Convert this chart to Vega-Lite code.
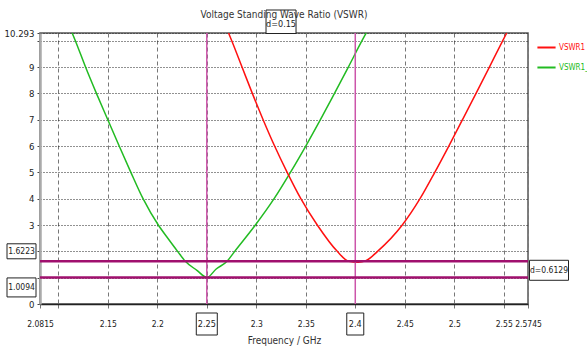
{
  "$schema": "https://vega.github.io/schema/vega-lite/v6.json",
  "width": 488,
  "height": 271,
  "autosize": {"type": "none"},
  "padding": {"left": 40, "top": 33, "right": 59, "bottom": 54},
  "background": "white",
  "title": {"text": "Voltage Standing Wave Ratio (VSWR)", "fontSize": 10, "fontWeight": "normal", "color": "#333", "font": "DejaVu Sans Condensed", "offset": -12, "anchor": "middle"},
  "config": {
    "view": {"stroke": "#555", "strokeWidth": 1.5},
    "font": "DejaVu Sans Condensed",
    "axis": {"labelFont": "DejaVu Sans Condensed", "titleFont": "DejaVu Sans Condensed", "labelOverlap": false, "labelFlush": false},
    "legend": {"labelFont": "DejaVu Sans Condensed"}
  },
  "datasets": {
    "curves": [
      {"freq": 2.1140, "vswr": 10.293, "series": "VSWR1_1"},
      {"freq": 2.1172, "vswr": 10, "series": "VSWR1_1"},
      {"freq": 2.1275, "vswr": 9, "series": "VSWR1_1"},
      {"freq": 2.1385, "vswr": 8, "series": "VSWR1_1"},
      {"freq": 2.1500, "vswr": 7, "series": "VSWR1_1"},
      {"freq": 2.1615, "vswr": 6, "series": "VSWR1_1"},
      {"freq": 2.1733, "vswr": 5, "series": "VSWR1_1"},
      {"freq": 2.1856, "vswr": 4, "series": "VSWR1_1"},
      {"freq": 2.2010, "vswr": 3, "series": "VSWR1_1"},
      {"freq": 2.2112, "vswr": 2.47, "series": "VSWR1_1"},
      {"freq": 2.2205, "vswr": 2, "series": "VSWR1_1"},
      {"freq": 2.2283, "vswr": 1.6223, "series": "VSWR1_1"},
      {"freq": 2.2400, "vswr": 1.28, "series": "VSWR1_1"},
      {"freq": 2.2502, "vswr": 1.0094, "series": "VSWR1_1"},
      {"freq": 2.2595, "vswr": 1.33, "series": "VSWR1_1"},
      {"freq": 2.2705, "vswr": 1.6223, "series": "VSWR1_1"},
      {"freq": 2.2782, "vswr": 2, "series": "VSWR1_1"},
      {"freq": 2.2991, "vswr": 3, "series": "VSWR1_1"},
      {"freq": 2.3180, "vswr": 4, "series": "VSWR1_1"},
      {"freq": 2.3345, "vswr": 5, "series": "VSWR1_1"},
      {"freq": 2.3500, "vswr": 6, "series": "VSWR1_1"},
      {"freq": 2.3648, "vswr": 7, "series": "VSWR1_1"},
      {"freq": 2.3790, "vswr": 8, "series": "VSWR1_1"},
      {"freq": 2.3930, "vswr": 9, "series": "VSWR1_1"},
      {"freq": 2.4068, "vswr": 10, "series": "VSWR1_1"},
      {"freq": 2.4110, "vswr": 10.293, "series": "VSWR1_1"},
      {"freq": 2.2720, "vswr": 10.293, "series": "VSWR1"},
      {"freq": 2.2752, "vswr": 10, "series": "VSWR1"},
      {"freq": 2.2856, "vswr": 9, "series": "VSWR1"},
      {"freq": 2.2960, "vswr": 8, "series": "VSWR1"},
      {"freq": 2.3069, "vswr": 7, "series": "VSWR1"},
      {"freq": 2.3185, "vswr": 6, "series": "VSWR1"},
      {"freq": 2.3312, "vswr": 5, "series": "VSWR1"},
      {"freq": 2.3450, "vswr": 4, "series": "VSWR1"},
      {"freq": 2.3616, "vswr": 3, "series": "VSWR1"},
      {"freq": 2.3818, "vswr": 2, "series": "VSWR1"},
      {"freq": 2.3935, "vswr": 1.6223, "series": "VSWR1"},
      {"freq": 2.4030, "vswr": 1.59, "series": "VSWR1"},
      {"freq": 2.4105, "vswr": 1.64, "series": "VSWR1"},
      {"freq": 2.4225, "vswr": 2, "series": "VSWR1"},
      {"freq": 2.4475, "vswr": 3, "series": "VSWR1"},
      {"freq": 2.4654, "vswr": 4, "series": "VSWR1"},
      {"freq": 2.4803, "vswr": 5, "series": "VSWR1"},
      {"freq": 2.4945, "vswr": 6, "series": "VSWR1"},
      {"freq": 2.5083, "vswr": 7, "series": "VSWR1"},
      {"freq": 2.5220, "vswr": 8, "series": "VSWR1"},
      {"freq": 2.5355, "vswr": 9, "series": "VSWR1"},
      {"freq": 2.5490, "vswr": 10, "series": "VSWR1"},
      {"freq": 2.5530, "vswr": 10.293, "series": "VSWR1"}
    ]
  },
  "encoding": {
    "x": {"type": "quantitative", "scale": {"domain": [2.0815, 2.5745], "nice": false, "zero": false}},
    "y": {"type": "quantitative", "scale": {"domain": [0, 10.293], "nice": false, "zero": false}}
  },
  "layer": [
    {
      "data": {"name": "curves"},
      "mark": {"type": "line", "strokeWidth": 1.5, "interpolate": "monotone"},
      "encoding": {
        "x": {"field": "freq", "type": "quantitative",
          "axis": {"values": [2.0815, 2.1, 2.15, 2.2, 2.25, 2.3, 2.35, 2.4, 2.45, 2.5, 2.55, 2.5745], "tickCount": 30,
            "labelExpr": "datum.value == 2.1 ? '' : toString(datum.value)",
            "grid": true, "gridColor": "#777", "gridDash": [4, 3], "gridWidth": 1,
            "domainColor": "#222", "domainWidth": 1.5, "tickColor": "#777", "tickSize": 4,
            "labelPadding": 11, "labelFontSize": 8.5, "labelColor": "#222", "labelOverlap": false, "labelFlush": false,
            "title": "Frequency / GHz", "titleFontSize": 10, "titleFontWeight": "normal", "titleColor": "#333", "titlePadding": 8}},
        "y": {"field": "vswr", "type": "quantitative",
          "axis": {"values": [0, 1, 2, 3, 4, 5, 6, 7, 8, 9, 10, 10.293], "tickCount": 30,
            "labelExpr": "(datum.value == 10 || datum.value == 1 || datum.value == 2) ? '' : (datum.value > 10 ? '10.293' : toString(datum.value))",
            "grid": true, "gridColor": "#222", "gridDash": [1, 2], "gridWidth": 1,
            "domainColor": "#aaa", "domainWidth": 2.5, "tickColor": "#444", "tickSize": 3,
            "labelPadding": 3, "labelFontSize": 9.5, "labelColor": "#222", "labelOverlap": false, "labelFlush": false,
            "title": null}},
        "color": {"field": "series", "type": "nominal",
          "scale": {"domain": ["VSWR1", "VSWR1_1"], "range": ["#FF1010", "#22BB22"]},
          "legend": {"orient": "none", "legendX": 496, "legendY": 4, "title": null,
            "symbolType": "stroke", "symbolSize": 330, "symbolStrokeWidth": 2,
            "labelFontSize": 8, "labelOffset": 2, "rowPadding": 5,
            "encode": {"labels": {"update": {"fill": {"signal": "datum.label === 'VSWR1' ? '#FF1010' : '#22BB22'"}}}}}}
      }
    },
    {
      "data": {"values": [{"freq": 2.25}, {"freq": 2.4}]},
      "mark": {"type": "rule", "color": "#CC55AA", "strokeWidth": 1.5},
      "encoding": {"x": {"field": "freq", "type": "quantitative"}}
    },
    {
      "data": {"values": [{"vswr": 1.6223}, {"vswr": 1.0094}]},
      "mark": {"type": "rule", "color": "#A0106E", "strokeWidth": 2.5},
      "encoding": {"y": {"field": "vswr", "type": "quantitative"}}
    },
    {
      "data": {"values": [{"freq": 2.0815, "vswr": 1.6223}]},
      "mark": {"type": "point", "shape": "M-33,-17.5H-4V-2.5H-33Z", "size": 4, "filled": true, "fill": "white", "stroke": "#222", "strokeWidth": 1, "opacity": 1},
      "encoding": {"x": {"field": "freq", "type": "quantitative"}, "y": {"field": "vswr", "type": "quantitative"}}
    },
    {
      "data": {"values": [{"freq": 2.0815, "vswr": 1.0094}]},
      "mark": {"type": "point", "shape": "M-33,0.5H-4V19.5H-33Z", "size": 4, "filled": true, "fill": "white", "stroke": "#222", "strokeWidth": 1, "opacity": 1},
      "encoding": {"x": {"field": "freq", "type": "quantitative"}, "y": {"field": "vswr", "type": "quantitative"}}
    },
    {
      "data": {"values": [{"freq": 2.25, "vswr": 0}]},
      "mark": {"type": "point", "shape": "M-10.5,9H10.5V31H-10.5Z", "size": 4, "filled": true, "fill": "white", "stroke": "#222", "strokeWidth": 1, "opacity": 1},
      "encoding": {"x": {"field": "freq", "type": "quantitative"}, "y": {"field": "vswr", "type": "quantitative"}}
    },
    {
      "data": {"values": [{"freq": 2.4, "vswr": 0}]},
      "mark": {"type": "point", "shape": "M-8.5,9H8.5V31H-8.5Z", "size": 4, "filled": true, "fill": "white", "stroke": "#222", "strokeWidth": 1, "opacity": 1},
      "encoding": {"x": {"field": "freq", "type": "quantitative"}, "y": {"field": "vswr", "type": "quantitative"}}
    },
    {
      "data": {"values": [{"freq": 2.5745, "vswr": 1.6223}]},
      "mark": {"type": "point", "shape": "M1.5,-1H40.5V19H1.5Z", "size": 4, "filled": true, "fill": "white", "stroke": "#222", "strokeWidth": 1, "opacity": 1},
      "encoding": {"x": {"field": "freq", "type": "quantitative"}, "y": {"field": "vswr", "type": "quantitative"}}
    },
    {
      "data": {"values": [{"freq": 2.325, "vswr": 10.293}]},
      "mark": {"type": "point", "shape": "M-15,-23H15V0.5H-15Z", "size": 4, "filled": true, "fill": "white", "stroke": "#222", "strokeWidth": 1, "opacity": 1},
      "encoding": {"x": {"field": "freq", "type": "quantitative"}, "y": {"field": "vswr", "type": "quantitative"}}
    },
    {
      "data": {"values": [{"freq": 2.0815, "vswr": 1.6223, "label": "1.6223"}]},
      "mark": {"type": "text", "fontSize": 8.5, "color": "#222", "align": "center", "baseline": "middle", "dx": -18.5, "dy": -10},
      "encoding": {"x": {"field": "freq", "type": "quantitative"}, "y": {"field": "vswr", "type": "quantitative"}, "text": {"field": "label"}}
    },
    {
      "data": {"values": [{"freq": 2.0815, "vswr": 1.0094, "label": "1.0094"}]},
      "mark": {"type": "text", "fontSize": 8.5, "color": "#222", "align": "center", "baseline": "middle", "dx": -18.5, "dy": 10},
      "encoding": {"x": {"field": "freq", "type": "quantitative"}, "y": {"field": "vswr", "type": "quantitative"}, "text": {"field": "label"}}
    },
    {
      "data": {"values": [{"freq": 2.25, "vswr": 0, "label": "2.25"}, {"freq": 2.4, "vswr": 0, "label": "2.4"}]},
      "mark": {"type": "text", "fontSize": 9, "color": "#222", "align": "center", "baseline": "middle", "dx": 0, "dy": 20},
      "encoding": {"x": {"field": "freq", "type": "quantitative"}, "y": {"field": "vswr", "type": "quantitative"}, "text": {"field": "label"}}
    },
    {
      "data": {"values": [{"freq": 2.5745, "vswr": 1.6223, "label": "d=0.6129"}]},
      "mark": {"type": "text", "fontSize": 8.5, "color": "#222", "align": "center", "baseline": "middle", "dx": 21, "dy": 9},
      "encoding": {"x": {"field": "freq", "type": "quantitative"}, "y": {"field": "vswr", "type": "quantitative"}, "text": {"field": "label"}}
    },
    {
      "data": {"values": [{"freq": 2.325, "vswr": 10.293, "label": "d=0.15"}]},
      "mark": {"type": "text", "fontSize": 9, "color": "#222", "align": "center", "baseline": "middle", "dx": 0, "dy": -9},
      "encoding": {"x": {"field": "freq", "type": "quantitative"}, "y": {"field": "vswr", "type": "quantitative"}, "text": {"field": "label"}}
    }
  ]
}
